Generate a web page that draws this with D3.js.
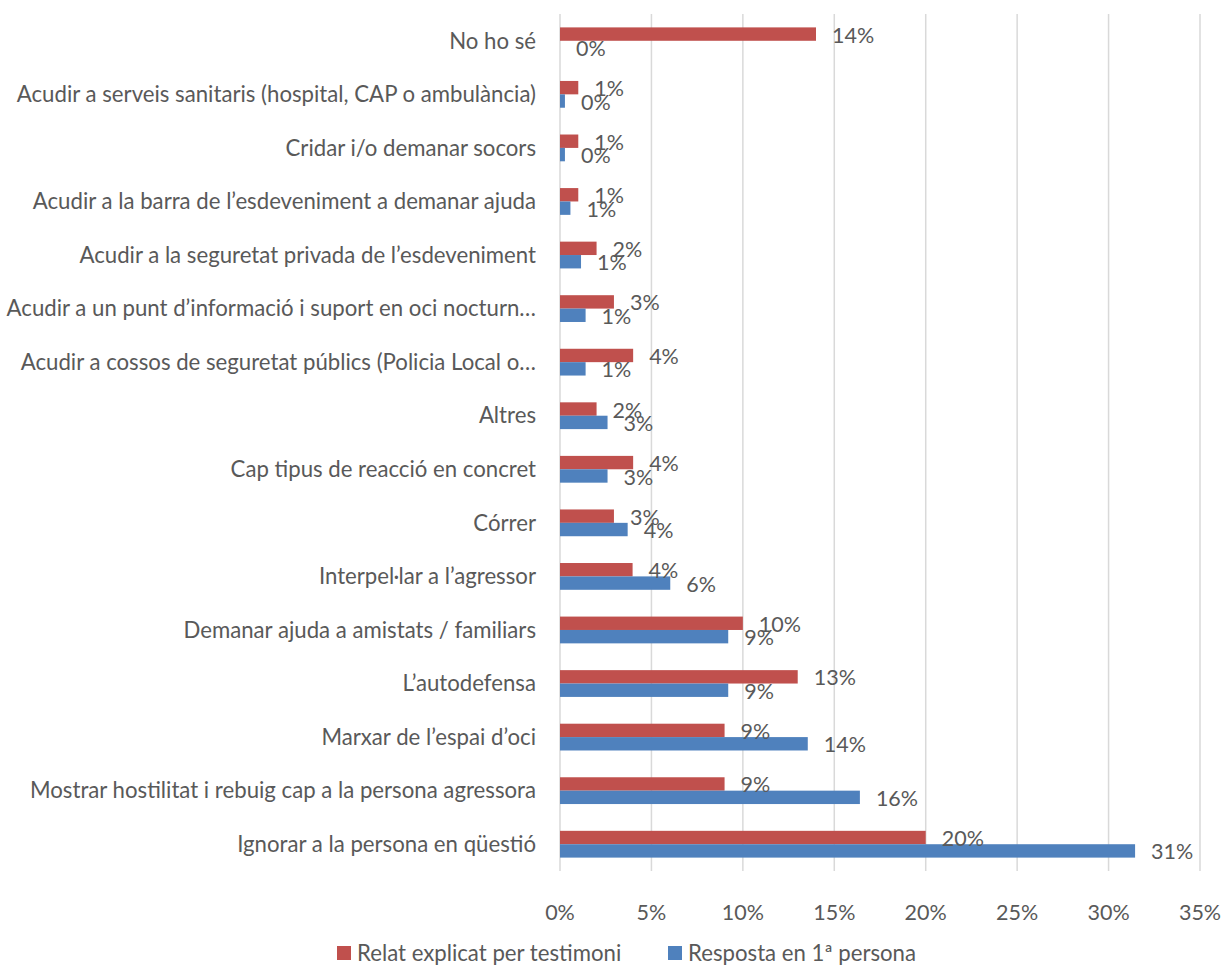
<!DOCTYPE html>
<meta charset="utf-8">
<style>
  body { margin: 0; background: #fff; }
  text { font-family: Lato, "Liberation Sans", Arial, sans-serif; fill: #595959; }
  .grid line { stroke: #d9d9d9; stroke-width: 1.5; }
</style>
<body>
<script src="https://d3js.org/d3.v7.min.js"></script>
<script>

  var categories = [
    "No ho sé",
    "Acudir a serveis sanitaris (hospital, CAP o ambulància)",
    "Cridar i/o demanar socors",
    "Acudir a la barra de l’esdeveniment a demanar ajuda",
    "Acudir a la seguretat privada de l’esdeveniment",
    "Acudir a un punt d’informació i suport en oci nocturn…",
    "Acudir a cossos de seguretat públics (Policia Local o…",
    "Altres",
    "Cap tipus de reacció en concret",
    "Córrer",
    "Interpel·lar a l’agressor",
    "Demanar ajuda a amistats / familiars",
    "L’autodefensa",
    "Marxar de l’espai d’oci",
    "Mostrar hostilitat i rebuig cap a la persona agressora",
    "Ignorar a la persona en qüestió"
  ];

  // percentages
  var relat =    [14, 1.0, 1.0, 1.0, 2.0, 2.95, 4.0, 2.0, 4.0, 2.95, 3.97, 10.0, 13.0, 9.0, 9.0, 20.0];
  var resposta = [0, 0.27, 0.27, 0.57, 1.15, 1.4, 1.4, 2.6, 2.6, 3.7, 6.03, 9.2, 9.2, 13.55, 16.4, 31.45];

  var seriesNames = ["Relat explicat per testimoni", "Resposta en 1ª persona"];
  var seriesColors = ["#C0504D", "#4F81BD"];
  var ticks = [0, 5, 10, 15, 20, 25, 30, 35];

  var width = 1221,
    height = 967,
    plotLeft = 560,
    plotRight = 1200,
    plotTop = 14,
    plotBottom = 871;

  var svg = d3.select("body").append("svg")
    .attr("width", width)
    .attr("height", height);

  var x = d3.scaleLinear().domain([0, 35]).range([plotLeft, plotRight]);
  var y = d3.scaleBand().domain(categories).range([plotTop, plotBottom]);
  var y1 = d3.scaleBand().domain([0, 1]).range([0, y.bandwidth()]).paddingOuter(1);

  var fmt = function (v) { return Math.round(v) + "%"; };

  // gridlines
  svg.append("g")
    .attr("class", "grid")
    .selectAll("line")
    .data(ticks)
    .enter().append("line")
    .attr("x1", x).attr("x2", x)
    .attr("y1", plotTop).attr("y2", plotBottom);

  // tick labels
  svg.append("g")
    .selectAll("text")
    .data(ticks)
    .enter().append("text")
    .attr("x", x)
    .attr("y", 920)
    .attr("text-anchor", "middle")
    .style("font-size", "21.5px")
    .text(function (d) { return d + "%"; });

  // category labels
  svg.append("g")
    .selectAll("text")
    .data(categories)
    .enter().append("text")
    .attr("x", 536)
    .attr("y", function (d) { return y(d) + y.bandwidth() / 2; })
    .attr("dy", "0.35em")
    .attr("text-anchor", "end")
    .style("font-size", "22.2px")
    .text(function (d) { return d; });

  var rows = categories.map(function (c, i) {
    return { cat: c, vals: [relat[i], resposta[i]] };
  });

  var group = svg.append("g")
    .selectAll("g")
    .data(rows)
    .enter().append("g")
    .attr("transform", function (d) { return "translate(0," + y(d.cat) + ")"; });

  group.selectAll("rect")
    .data(function (d) { return d.vals; })
    .enter().append("rect")
    .attr("x", x(0))
    .attr("y", function (d, i) { return y1(i); })
    .attr("width", function (d) { return x(d) - x(0); })
    .attr("height", y1.bandwidth())
    .attr("fill", function (d, i) { return seriesColors[i]; });

  group.selectAll("text")
    .data(function (d) { return d.vals; })
    .enter().append("text")
    .attr("x", function (d) { return x(d) + 16; })
    .attr("y", function (d, i) { return y1(i) + y1.bandwidth() / 2 + 1; })
    .attr("dy", "0.35em")
    .style("font-size", "21.5px")
    .text(fmt);

  // legend
  var legendX = [337, 668];
  var legend = svg.append("g")
    .selectAll("g")
    .data(seriesNames)
    .enter().append("g")
    .attr("transform", function (d, i) { return "translate(" + legendX[i] + ",946)"; });

  legend.append("rect")
    .attr("width", 14).attr("height", 14)
    .attr("fill", function (d, i) { return seriesColors[i]; });

  legend.append("text")
    .attr("x", 20)
    .attr("y", 7)
    .attr("dy", "0.35em")
    .style("font-size", "22.2px")
    .text(function (d) { return d; });

</script>
